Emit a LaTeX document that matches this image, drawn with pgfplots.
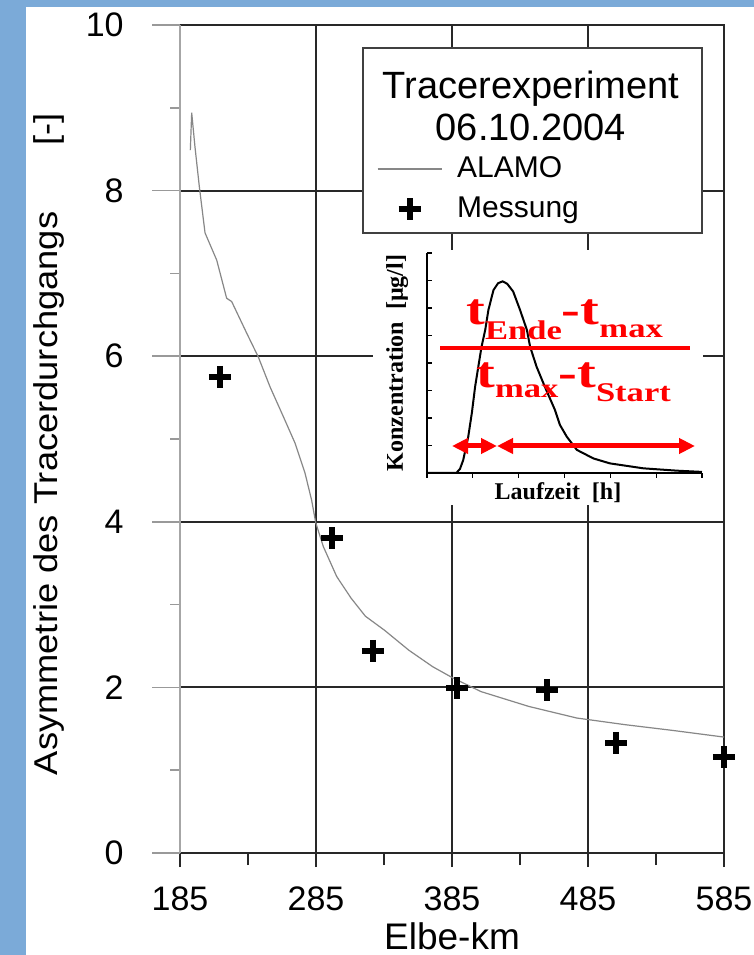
\documentclass[border=0pt]{standalone}
\usepackage{fontspec}
\setmainfont{Liberation Sans}
\newfontfamily\tnr{Liberation Serif}
\usepackage{graphicx}
\usepackage{pgfplots}
\pgfplotsset{compat=1.18}
\usetikzlibrary{arrows.meta}

\definecolor{bgblue}{RGB}{123,170,216}
\definecolor{gridc}{RGB}{40,40,40}
\definecolor{curvec}{RGB}{135,135,135}
\newcommand{\subf}{\fontsize{13.5pt}{16pt}\selectfont}

\pgfplotsset{
  linelegend/.style={legend image code/.code={\draw[##1] (0pt,0pt) -- (32pt,0pt);}},
  marklegend/.style={legend image code/.code={\draw[##1] plot coordinates {(16pt,0pt)};}},
}

\begin{document}
\begin{tikzpicture}
% page background: blue frame, white sheet
\fill[bgblue] (0pt,0pt) rectangle (377pt,477.5pt);
\fill[white] (13pt,0pt) rectangle (377pt,474pt);

\begin{axis}[
  at={(90pt,51pt)}, anchor=south west,
  scale only axis, width=272pt, height=414pt,
  xmin=185, xmax=585, ymin=0, ymax=10,
  clip=false,
  axis line style={draw=none},
  xtick={185,285,385,485,585}, minor x tick num=1,
  ytick={0,2,4,6,8,10},
  tick align=outside, xtick pos=left, ytick pos=left,
  major tick length=7pt, minor tick length=6pt,
  every tick/.style={gridc, line width=1pt},
  ytick style={draw=none},
  /pgf/number format/assume math mode=true,
  ticklabel style={font=\fontsize{17pt}{20pt}\selectfont, inner sep=0pt},
  xticklabel style={anchor=base, yshift=-21.5pt},
  yticklabel style={anchor=east, xshift=-21pt},
  xlabel={Elbe-km},
  ylabel={\scalebox{1.1}[1]{Asymmetrie des Tracerdurchgangs\hspace{30pt}[-]}},
  xlabel style={at={(axis description cs:0.5,-0.1171)}, anchor=base,
    font=\fontsize{18.5pt}{22pt}\selectfont, inner sep=0pt},
  ylabel style={at={(axis description cs:-0.2243,0.8937)}, anchor=base east,
    font=\fontsize{16.5pt}{20pt}\selectfont, inner sep=0pt},
  legend style={draw=none, fill=none, at={(0.3621,0.8406)}, anchor=north west,
    inner sep=0pt, outer sep=0pt, row sep=8.2pt, column sep=7.5pt,
    font=\fontsize{15pt}{18pt}\selectfont, nodes={inner sep=0pt}},
  legend cell align=left,
]
% grid
\pgfplotsinvokeforeach{285,385,485}{
  \draw[gridc, line width=1pt] (axis cs:#1,0) -- (axis cs:#1,10);
}
\pgfplotsinvokeforeach{2,4,6,8}{
  \draw[gridc, line width=1pt] (axis cs:185,#1) -- (axis cs:585,#1);
}
% y ticks, drawn out to the left
\pgfplotsinvokeforeach{0,2,4,6,8,10}{
  \draw[black!40, line width=0.75pt] (axis cs:185,#1) -- ++(-14pt,0pt);
}
\pgfplotsinvokeforeach{1,3,5,7,9}{
  \draw[black!40, line width=0.75pt] (axis cs:185,#1) -- ++(-5pt,0pt);
}
% frame
\draw[gridc, line width=1pt] (rel axis cs:0,1) -- (rel axis cs:1,1)
  -- (rel axis cs:1,0) -- (rel axis cs:0,0);
\draw[black!35, line width=0.6pt] (rel axis cs:0,0) -- (rel axis cs:0,1);
% legend box and title
\draw[black!75, line width=1pt, fill=white]
  (rel axis cs:0.3364,0.7488) rectangle (rel axis cs:0.9596,0.9722);
\node[anchor=base, inner sep=0pt, font=\fontsize{19pt}{22pt}\selectfont]
  at (rel axis cs:0.645,0.9118) {Tracerexperiment};
\node[anchor=base, inner sep=0pt, font=\fontsize{19pt}{22pt}\selectfont]
  at (rel axis cs:0.645,0.8611) {06.10.2004};

\addplot[curvec, line width=0.6pt, linelegend] coordinates {
  (192.6,8.49) (193.6,8.94) (196.0,8.53) (199.2,8.05) (203.4,7.49)
  (212.0,7.16) (219.3,6.70) (223.0,6.66) (234.0,6.28) (242.6,5.99)
  (251.2,5.63) (261.0,5.27) (269.6,4.95) (276.9,4.59) (281.8,4.26)
  (284.8,3.99) (290.4,3.70) (300.2,3.34) (310.7,3.08) (321.3,2.86)
  (335.4,2.69) (353.2,2.45) (370.8,2.25) (385.0,2.12) (406.2,1.95)
  (441.5,1.77) (476.8,1.63) (512.2,1.55) (547.5,1.48) (585.0,1.40)
};
\addlegendentry{ALAMO}

\addplot[only marks, mark=+, mark size=5.5pt, black,
  mark options={line width=3pt}, marklegend] coordinates {
  (214.4,5.75) (296.8,3.80) (326.9,2.44) (388.7,1.99)
  (454.9,1.97) (505.6,1.33) (585.0,1.16)
};
\addlegendentry{Messung}
\end{axis}

% inset: sketch of a tracer breakthrough curve
\fill[white] (186.5pt,225pt) rectangle (351.5pt,352.5pt);
\begin{axis}[
  at={(213.5pt,241pt)}, anchor=south west,
  scale only axis, width=137.5pt, height=110pt,
  xmin=0, xmax=6, ymin=0, ymax=8,
  clip=false,
  axis lines*=left,
  axis line style={black, line width=1pt},
  xtick={0,1,...,6}, ytick={0,1,...,8},
  xticklabels={}, yticklabels={},
  tick align=inside, major tick length=2.5pt,
  every tick/.style={black, line width=0.6pt},
  xtick style={yshift=-2.5pt},
  xlabel={Laufzeit\ \ [h]},
  ylabel={Konzentration\ \ [µg/l]},
  label style={font=\tnr\bfseries\fontsize{12pt}{14pt}\selectfont, inner sep=0pt},
  xlabel style={at={(axis description cs:0.4764,-0.1227)}, anchor=base},
  ylabel style={at={(axis description cs:-0.0873,0.5)}, anchor=base},
]
\addplot[black, line width=1pt] coordinates {
  (0,0) (0.64,0) (0.72,0.15) (0.79,0.47) (0.9,1.32) (0.98,2.2)
  (1.05,3.14) (1.12,3.87) (1.19,4.59) (1.27,5.2) (1.34,5.93)
  (1.45,6.65) (1.55,6.9) (1.65,6.97) (1.75,6.88) (1.88,6.6)
  (2.03,5.93) (2.18,5.2) (2.25,4.59) (2.39,3.87) (2.57,3.14)
  (2.79,2.3) (2.9,1.75) (3.05,1.32) (3.27,0.84) (3.63,0.53)
  (3.99,0.35) (4.72,0.17) (5.45,0.085) (6.0,0.04)
};
\end{axis}

% asymmetry formula
\node[anchor=base west, inner sep=0pt, red,
  font=\tnr\bfseries\fontsize{22pt}{26pt}\selectfont] at (233pt,315pt)
  {\scalebox{1.28}[1]{t\raisebox{-7.5pt}{\subf Ende}-t\raisebox{-6.5pt}{\subf max}}};
\draw[red, line width=2pt] (220pt,303.5pt) -- (345pt,303.5pt);
\node[anchor=base west, inner sep=0pt, red,
  font=\tnr\bfseries\fontsize{22pt}{26pt}\selectfont] at (238pt,283.5pt)
  {\scalebox{1.28}[1]{t\raisebox{-5pt}{\subf max}-t\raisebox{-7pt}{\subf Start}}};
\draw[red, line width=2.5pt, {Triangle[length=8pt,width=7.5pt]}-{Triangle[length=8pt,width=7.5pt]}]
  (226pt,254.5pt) -- (248.5pt,254.5pt);
\draw[red, line width=2.5pt, {Triangle[length=8pt,width=7.5pt]}-{Triangle[length=8pt,width=7.5pt]}]
  (248.5pt,254.5pt) -- (347.5pt,254.5pt);

\pgfresetboundingbox
\path (0pt,0pt) rectangle (377pt,477.5pt);
\end{tikzpicture}
\end{document}
